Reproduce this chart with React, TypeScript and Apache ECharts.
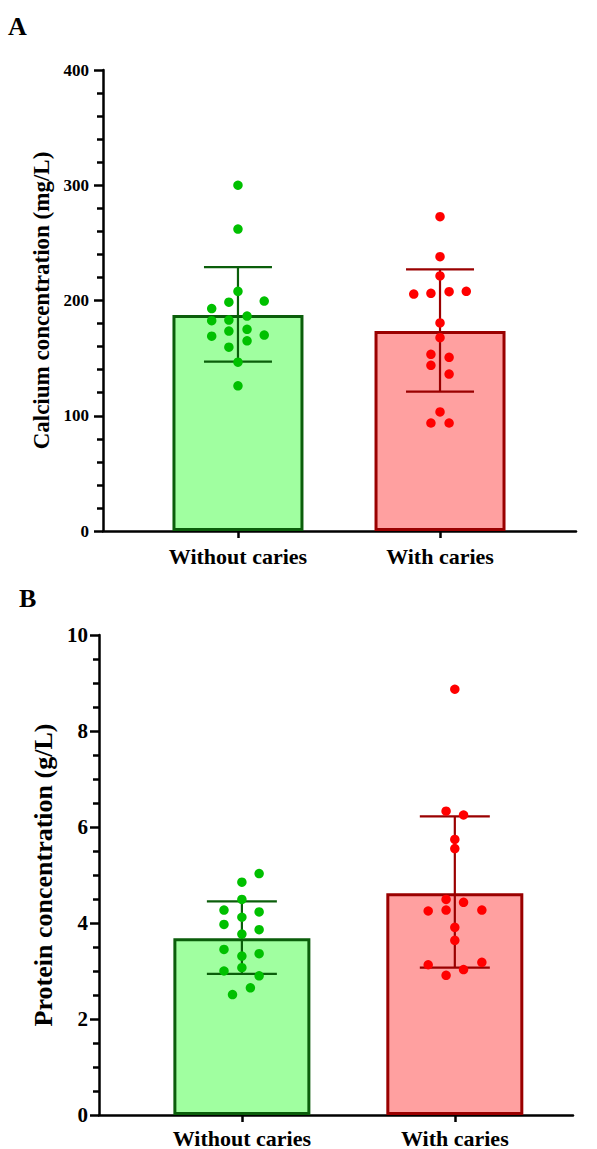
import React, { useEffect, useRef } from "react";
import * as echarts from "echarts";

// ---------- data ----------
const categories = ["Without caries", "With caries"];

// Panel A: calcium (mg/L)
const calciumMeans = [187.5, 173.5];
const calciumErrLow = [147, 121];
const calciumErrHigh = [229, 227];
const calciumNoCariesX = [0, 0, 0, -0.045, 0.13, -0.13, -0.13, -0.045, 0.045, -0.13, -0.045, 0.045, 0.13, 0.045, -0.045, 0, 0];
const calciumNoCaries = [300, 262, 208, 198.5, 199.5, 193, 182.5, 183, 186.5, 169, 173.5, 175, 170, 165, 159.5, 146.5, 126];
const calciumCariesX = [0, 0, 0, -0.13, -0.045, 0.045, 0.13, 0, 0, -0.045, 0.045, -0.045, 0.045, 0, -0.045, 0.045];
const calciumCaries = [272.7, 238, 221.3, 205.6, 206.2, 207.7, 208, 180.5, 167.7, 153.3, 150.7, 143.8, 136.2, 103.3, 93.7, 93.7];

// Panel B: protein (g/L)
const proteinMeans = [3.68, 4.62];
const proteinErrLow = [2.94, 3.07];
const proteinErrHigh = [4.45, 6.22];
const proteinNoCariesX = [0.081, 0, 0, -0.084, 0.081, 0, -0.084, 0.081, 0, -0.084, 0.081, 0, 0, -0.084, 0.081, 0.04, -0.044];
const proteinNoCaries = [5.03, 4.85, 4.49, 4.27, 4.23, 4.12, 3.97, 3.86, 3.77, 3.45, 3.36, 3.31, 3.07, 3.0, 2.9, 2.65, 2.51];
const proteinCariesX = [0, -0.041, 0.041, 0, 0, -0.041, 0.041, -0.125, -0.041, 0.127, 0, 0, -0.125, 0.127, 0.041, -0.041];
const proteinCaries = [8.87, 6.33, 6.25, 5.74, 5.55, 4.49, 4.43, 4.25, 4.27, 4.27, 3.91, 3.64, 3.13, 3.18, 3.03, 2.91];

// ---------- styles ----------
const FONT = "Liberation Serif";
const fills = ["#A0FFA0", "#FFA0A0"];
const borders = ["#0B5E0B", "#9A0000"];
const dotColors = ["#00C000", "#FF0000"];

function toPairs(xs: number[], ys: number[], center: number) {
  return ys.map((v, i) => [center + xs[i], v]);
}

export default function App() {
  const ref = useRef<HTMLDivElement>(null);
  useEffect(() => {
    if (!ref.current) return;
    const chart = echarts.init(ref.current, null, { renderer: "svg" });

    const xAxisBase = (gridIndex: number, min: number, max: number, margin: number) => ({
      type: "value",
      gridIndex,
      min,
      max,
      splitLine: { show: false },
      axisLine: { show: true, onZero: false, lineStyle: { color: "#000", width: 2.5 } },
      axisTick: { show: true, customValues: [0, 1], length: 7, lineStyle: { color: "#000", width: 2.5 } },
      axisLabel: {
        show: true,
        customValues: [0, 1],
        margin,
        formatter: (v: number) => categories[Math.round(v)] ?? "",
        color: "#000",
        fontFamily: FONT,
        fontWeight: "bold",
        fontSize: 22,
      },
    });

    const yAxisBase = (
      gridIndex: number,
      max: number,
      interval: number,
      minorSplit: number,
      name: string,
      labelSize: number,
      nameSize: number,
      nameGap: number,
      labelMargin: number
    ) => ({
      type: "value",
      gridIndex,
      min: 0,
      max,
      interval,
      name,
      nameLocation: "middle",
      nameRotate: 90,
      nameGap,
      nameTextStyle: { color: "#000", fontFamily: FONT, fontWeight: "bold", fontSize: nameSize },
      splitLine: { show: false },
      axisLine: { show: true, onZero: false, lineStyle: { color: "#000", width: 2.5 } },
      axisTick: { show: true, length: 9, lineStyle: { color: "#000", width: 2.5 } },
      minorTick: { show: true, splitNumber: minorSplit, length: 6, lineStyle: { color: "#000", width: 2.5 } },
      axisLabel: {
        color: "#000",
        fontFamily: FONT,
        fontWeight: "bold",
        fontSize: labelSize,
        margin: labelMargin,
      },
    });

    const errorSeries = (xIdx: number, lows: number[], highs: number[], capHalf: number) => ({
      type: "custom",
      xAxisIndex: xIdx,
      yAxisIndex: xIdx,
      z: 3,
      data: lows.map((lo, i) => [i, lo, highs[i]]),
      renderItem: (params: any, api: any) => {
        const x = api.value(0);
        const lo = api.coord([x, api.value(1)]);
        const hi = api.coord([x, api.value(2)]);
        const color = borders[params.dataIndex];
        const style = { stroke: color, lineWidth: 2.2 };
        return {
          type: "group",
          children: [
            { type: "line", shape: { x1: lo[0], y1: lo[1], x2: hi[0], y2: hi[1] }, style },
            { type: "line", shape: { x1: hi[0] - capHalf, y1: hi[1], x2: hi[0] + capHalf, y2: hi[1] }, style },
            { type: "line", shape: { x1: lo[0] - capHalf, y1: lo[1], x2: lo[0] + capHalf, y2: lo[1] }, style },
          ],
        };
      },
    });

    const barSeries = (xIdx: number, means: number[], width: number) => ({
      type: "bar",
      xAxisIndex: xIdx,
      yAxisIndex: xIdx,
      barWidth: width,
      z: 2,
      data: means.map((m, i) => ({
        value: [i, m],
        itemStyle: { color: fills[i], borderColor: borders[i], borderWidth: 3 },
      })),
    });

    const dotSeries = (xIdx: number, xs: number[], ys: number[], center: number) => ({
      type: "scatter",
      xAxisIndex: xIdx,
      yAxisIndex: xIdx,
      z: 5,
      symbolSize: 9.5,
      itemStyle: { color: dotColors[center], opacity: 1 },
      data: toPairs(xs, ys, center),
    });

    chart.setOption({
      animation: false,
      backgroundColor: "#fff",
      grid: [
        { left: 103, top: 70, width: 473, height: 461 },
        { left: 99, top: 635, width: 474, height: 480 },
      ],
      xAxis: [xAxisBase(0, -0.668, 1.673, 14), xAxisBase(1, -0.671, 1.555, 12)],
      yAxis: [
        yAxisBase(0, 400, 100, 5, "Calcium concentration (mg/L)", 17, 23, 46, 14),
        yAxisBase(1, 10, 2, 4, "Protein concentration (g/L)", 21, 26, 41, 11),
      ],
      graphic: [
        { type: "text", left: 8, top: 13, style: { text: "A", fontFamily: FONT, fontWeight: "bold", fontSize: 26, fill: "#000" } },
        { type: "text", left: 19, top: 585, style: { text: "B", fontFamily: FONT, fontWeight: "bold", fontSize: 26, fill: "#000" } },
      ],
      series: [
        barSeries(0, calciumMeans, 131),
        errorSeries(0, calciumErrLow, calciumErrHigh, 34),
        dotSeries(0, calciumNoCariesX, calciumNoCaries, 0),
        dotSeries(0, calciumCariesX, calciumCaries, 1),
        barSeries(1, proteinMeans, 137),
        errorSeries(1, proteinErrLow, proteinErrHigh, 35),
        dotSeries(1, proteinNoCariesX, proteinNoCaries, 0),
        dotSeries(1, proteinCariesX, proteinCaries, 1),
      ],
    });
    return () => chart.dispose();
  }, []);
  return (
    <div
      ref={ref}
      style={{ position: "fixed", left: 0, top: 0, width: 597, height: 1149, background: "#fff" }}
    />
  );
}
